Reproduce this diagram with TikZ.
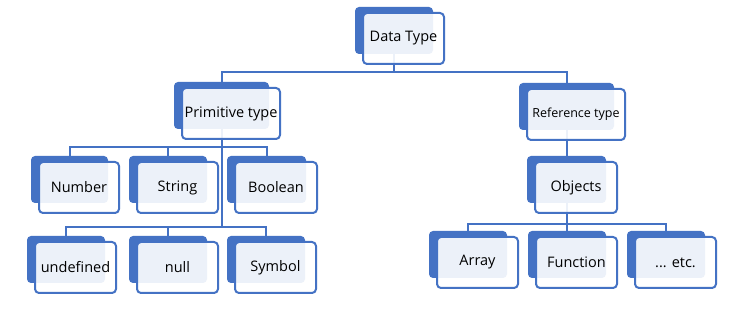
\documentclass[tikz,border=0pt]{standalone}
\usepackage{fontspec}
\setmainfont{Open Sans}
\pgfdeclarelayer{bg}
\pgfsetlayers{bg,main}
\definecolor{boxblue}{HTML}{4472C4}
\begin{document}
\begin{tikzpicture}[x=1pt,y=-1pt,
  backbox/.style={fill=boxblue, rounded corners=4pt, inner sep=0pt, outer sep=0pt, minimum height=47pt},
  frontbox/.style={draw=boxblue, line width=2pt, fill=white, fill opacity=0.9, text opacity=1, rounded corners=4pt, inner sep=0pt, outer sep=0pt, minimum height=51pt, font=\fontsize{14.5}{16}\selectfont, text=black},
  conn/.style={draw=boxblue, line width=2pt}]
\newcommand\tbox[6]{%
  \node[backbox, minimum width=#4pt, anchor=north west] (#1-b) at (#2,#3) {};
  \node[frontbox, minimum width=#4pt+3pt, anchor=north west] (#1) at (#2+8,#3+6) {#5#6};
}
\useasboundingbox (0,0) rectangle (753,312);
\tbox{dt}{355}{7}{78}{}{Data Type}
\tbox{prim}{174}{82}{95}{}{Primitive type}
\tbox{ref}{519}{83}{95}{\fontsize{12.5}{14}\selectfont}{Reference type}
\tbox{obj}{527}{156}{79}{}{Objects}
\tbox{num}{31}{156}{77}{}{Number}
\tbox{str}{129}{156}{78}{}{String}
\tbox{bool}{227}{156}{79}{}{Boolean}
\tbox{undef}{27}{236}{78}{}{undefined}
\tbox{null}{129}{236}{78}{}{null}
\tbox{sym}{227}{236}{78}{}{Symbol}
\tbox{arr}{429}{231}{78}{}{Array}
\tbox{fun}{528}{231}{78}{}{Function}
\tbox{etc}{627}{231}{78}{}{... etc.}
\begin{pgfonlayer}{bg}
  \fill[white] (0,0) rectangle (753,312);
  \draw[conn] (dt-b.south) -- ++(0,18) -| (prim-b.north);
  \draw[conn] (dt-b.south) -- ++(0,18) -| (ref-b.north);
  \draw[conn] (prim-b.south) -- ++(0,18) -| (num-b.north);
  \draw[conn] (prim-b.south) -- ++(0,18) -| (str-b.north);
  \draw[conn] (prim-b.south) -- ++(0,18) -| (bool-b.north);
  \draw[conn] (prim-b.south) -- ++(0,98) -| (undef-b.north);
  \draw[conn] (prim-b.south) -- ++(0,98) -| (null-b.north);
  \draw[conn] (prim-b.south) -- ++(0,98) -| (sym-b.north);
  \draw[conn] (ref-b.south) -- (obj-b.north);
  \draw[conn] (obj-b.south) -- ++(0,21) -| (arr-b.north);
  \draw[conn] (obj-b.south) -- ++(0,21) -| (fun-b.north);
  \draw[conn] (obj-b.south) -- ++(0,21) -| (etc-b.north);
\end{pgfonlayer}
\end{tikzpicture}
\end{document}
